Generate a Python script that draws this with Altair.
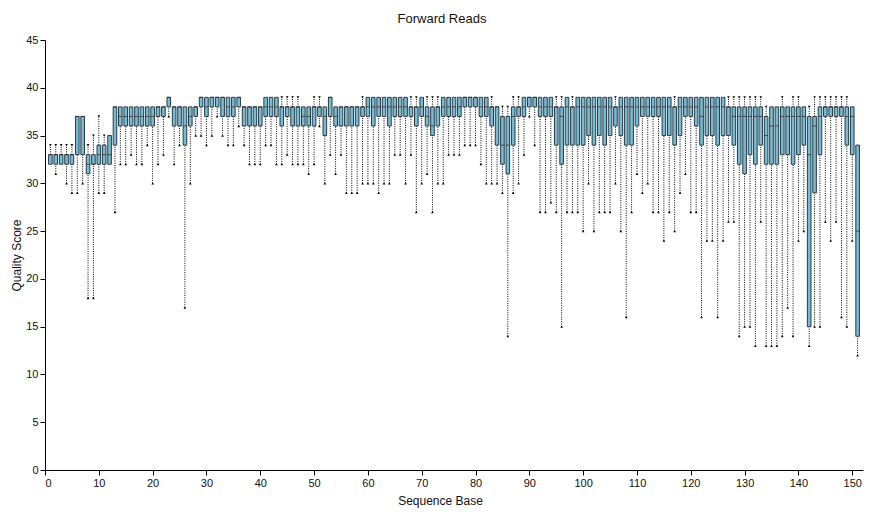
import altair as alt
import pandas as pd

bases = list(range(1, 152))

lo = [32,31,32,30,29,29,30,18,18,29,29,32,27,32,32,33,32,32,34,30,
      32,33,37,32,34,17,30,35,35,34,35,37,35,34,34,36,34,32,32,32,
      34,34,32,32,33,32,32,32,31,32,36,30,33,31,33,29,29,29,30,30,
      30,29,30,30,33,33,30,33,27,30,31,27,30,30,33,33,33,34,34,34,
      32,30,30,30,29,14,29,30,33,37,34,27,27,28,27,15,27,27,27,25,
      30,25,27,27,27,30,25,16,27,31,29,30,27,27,24,27,25,29,31,27,
      27,16,24,24,16,24,26,26,14,15,15,13,26,13,13,13,14,17,14,24,
      25,13,15,15,26,24,26,16,15,24,12]
q1 = [32,32,32,32,32,33,33,31,32,32,32,32,34,36,36,36,36,36,36,36,
      37,37,38,36,36,34,36,37,38,37,38,38,37,37,37,38,36,36,36,36,
      37,37,37,36,37,36,36,36,36,36,37,35,37,36,36,36,36,36,37,37,
      36,37,37,36,37,37,37,37,36,37,36,35,36,37,37,37,37,38,38,38,
      37,37,36,34,32,31,34,37,37,38,38,37,37,37,34,32,34,34,34,34,
      35,34,35,34,35,36,35,34,34,36,37,37,37,37,35,35,34,35,37,37,
      36,34,35,35,34,35,35,34,32,31,33,32,34,32,32,32,33,33,32,33,
      34,15,29,33,37,37,37,37,34,33,14]
med = [33,33,33,33,33,37,37,32,32,33,33,33,38,37,37,37,37,37,37,37,
       38,38,39,38,38,36,37,38,39,38,39,39,39,38,38,39,38,38,38,38,
       38,38,38,38,38,38,38,37,37,38,38,37,39,37,38,38,38,38,38,38,
       38,38,38,38,38,38,38,38,38,38,37,36,38,38,38,38,38,39,39,39,
       38,38,38,38,34,34,37,38,38,39,39,38,38,38,38,37,38,38,38,38,
       38,38,38,38,38,38,38,38,38,38,38,38,38,38,38,38,38,38,38,38,
       38,37,38,38,38,38,38,37,37,37,37,37,37,35,36,36,37,37,37,37,
       37,33,36,37,38,38,38,38,37,37,25]
q3 = [33,33,33,33,33,37,37,33,33,34,34,35,38,38,38,38,38,38,38,38,
      38,38,39,38,38,38,38,38,39,39,39,39,39,39,39,39,38,38,38,38,
      39,39,39,38,38,38,38,38,38,38,38,38,39,38,38,38,38,38,38,39,
      39,39,39,39,39,39,39,38,38,39,38,38,38,39,39,39,39,39,39,39,
      39,39,38,38,37,37,38,38,39,39,39,39,39,39,38,38,39,38,39,39,
      39,39,39,39,39,38,39,39,39,39,39,39,39,39,39,39,38,39,39,39,
      39,39,39,39,39,39,38,38,38,38,38,38,38,37,38,38,38,38,38,38,
      38,37,37,38,38,38,38,38,38,38,34]
hi = [34,34,34,34,34,37,37,34,35,37,35,35,38,38,38,38,38,38,38,38,
      38,38,39,38,38,38,38,38,39,39,39,39,39,39,39,39,38,38,38,38,
      39,39,39,39,39,39,39,38,38,39,39,38,39,38,38,38,38,38,39,39,
      39,39,39,39,39,39,39,39,39,39,39,39,39,39,39,39,39,39,39,39,
      39,39,39,38,38,38,39,39,39,39,39,39,39,39,39,39,39,39,39,39,
      39,39,39,39,39,39,39,39,39,39,39,39,39,39,39,39,39,39,39,39,
      39,39,39,39,39,39,39,39,39,39,39,39,39,38,38,38,39,38,39,39,
      38,38,39,39,39,39,39,39,39,38,34]

df = pd.DataFrame({"base": bases, "lo": lo, "q1": q1, "med": med, "q3": q3, "hi": hi})

FONT = "Liberation Sans"

x = alt.X("base:Q", scale=alt.Scale(domain=[0, 152], nice=False, padding=0),
          axis=alt.Axis(title="Sequence Base", values=list(range(0, 151, 10)),
                        grid=False, titleX=395, titleY=25))
y_axis = alt.Axis(title="Quality Score", values=list(range(0, 46, 5)), grid=False,
                  titleX=-22)
yscale = alt.Scale(domain=[0, 45], nice=False, padding=0)

base = alt.Chart(df)

wlo = base.mark_rule(color="black", strokeWidth=1, strokeDash=[1, 1.3]).encode(
    x=x, y=alt.Y("lo:Q", scale=yscale, axis=y_axis), y2="q1:Q")
whi = base.mark_rule(color="black", strokeWidth=1, strokeDash=[1, 1.3]).encode(
    x="base:Q", y="q3:Q", y2="hi:Q")
box = base.mark_bar(size=3.6, fill="#74bdd8", stroke="#2f3b40", strokeWidth=1).encode(
    x="base:Q", y="q1:Q", y2="q3:Q")
medm = base.mark_tick(orient="horizontal", size=4, thickness=1, color="#222").encode(
    x="base:Q", y="med:Q")
plo = base.transform_filter("datum.lo < datum.q1").mark_point(
    shape="triangle-up", filled=True, size=7, color="black", opacity=1).encode(
    x="base:Q", y="lo:Q")
phi = base.transform_filter("datum.hi > datum.q3").mark_point(
    shape="triangle-down", filled=True, size=7, color="black", opacity=1).encode(
    x="base:Q", y="hi:Q")

chart = alt.layer(wlo, whi, box, medm, plo, phi).properties(
    width=818, height=430,
    title=alt.TitleParams("Forward Reads", fontSize=13, fontWeight="normal",
                          font=FONT, color="#111", dx=-12, offset=8),
    autosize=alt.AutoSizeParams(type="none"),
    padding={"left": 37, "top": 32, "right": 10, "bottom": 38},
).configure_view(stroke=None).configure_axis(
    domainColor="black", tickColor="black", labelColor="#111", titleColor="#111",
    labelFont=FONT, titleFont=FONT, labelFontSize=11, titleFontSize=12,
    titleFontWeight="normal", tickSize=5,
)

chart.save("out.html", embed_options={"renderer": "svg", "actions": False})
